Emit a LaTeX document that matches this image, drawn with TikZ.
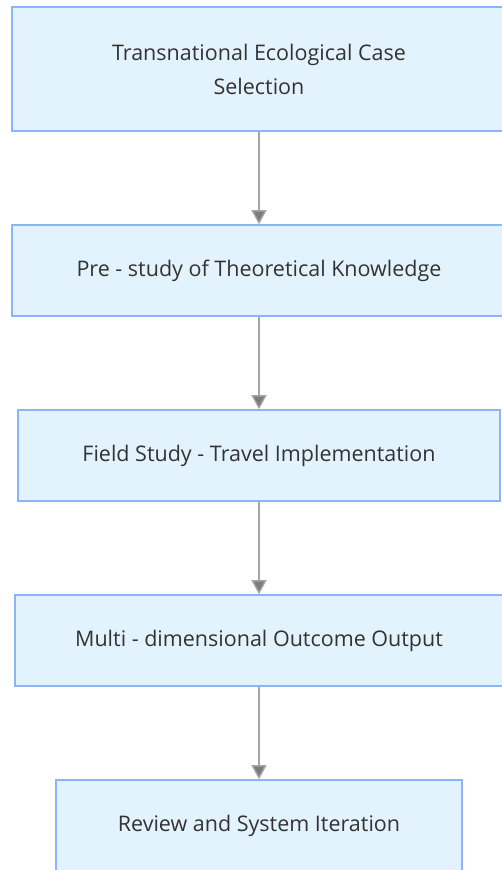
\documentclass[tikz,border=0pt]{standalone}
\usepackage{fontspec}
\setmainfont{Open Sans}
\usepackage{tikz}
\usetikzlibrary{positioning, arrows.meta}
\definecolor{BoxFill}{RGB}{227,243,253}
\definecolor{BoxLine}{RGB}{140,180,250}
\definecolor{TextInk}{RGB}{51,51,51}
\definecolor{FlowGray}{RGB}{165,165,165}

\begin{document}
\begin{tikzpicture}[x=1pt, y=-1pt, >=Triangle,
    stage/.style={draw=BoxLine, line width=1.6pt, fill=BoxFill, text=TextInk, align=center,
      font=\fontsize{21.5}{34}\selectfont, minimum height=91pt, inner sep=0pt},
    flow/.style={draw=FlowGray, line width=1.4pt, -{Triangle[length=14pt, width=15pt, fill=FlowGray!75!black]}}]
  \useasboundingbox (0,0) rectangle (501,870);
  % stages
  \node[stage, minimum width=494pt, minimum height=124pt] (cases) at (259,69) {Transnational Ecological Case\\Selection};
  \node[stage, minimum width=494pt] (theory) at (259,270.5) {Pre - study of Theoretical Knowledge};
  \node[stage, minimum width=482pt] (field) at (259,455.5) {Field Study - Travel Implementation};
  \node[stage, minimum width=488pt] (outcome) at (259,640.5) {Multi - dimensional Outcome Output};
  \node[stage, minimum width=406pt] (review) at (259,825.5) {Review and System Iteration};
  % connectors
  \foreach \a/\b in {cases/theory, theory/field, field/outcome, outcome/review}
    \draw[flow] (\a) -- (\b);
\end{tikzpicture}
\end{document}
